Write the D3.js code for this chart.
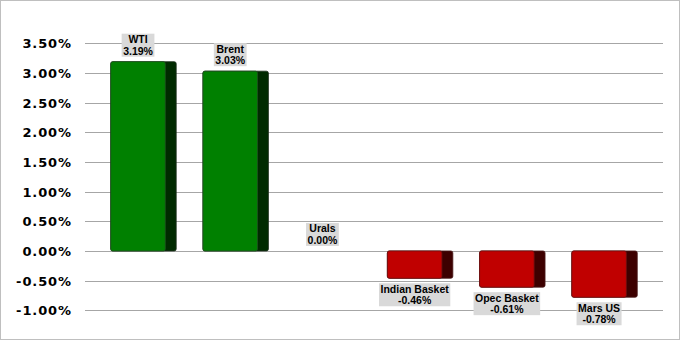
<!DOCTYPE html>
<html><head><meta charset="utf-8">
<script src="https://cdn.jsdelivr.net/npm/d3@7"></script>
<style>html,body{margin:0;padding:0;background:#fff}</style>
</head><body>
<script>
const categories = ["WTI", "Brent", "Urals", "Indian Basket", "Opec Basket", "Mars US"];
const values = [3.19, 3.03, 0.00, -0.46, -0.61, -0.78];
const tickValues = [-1.0, -0.5, 0, 0.5, 1.0, 1.5, 2.0, 2.5, 3.0, 3.5];

const W = 681, H = 341;
const svg = d3.select("body").append("svg").attr("width", W).attr("height", H);
svg.append("rect").attr("x", 0.5).attr("y", 0.5).attr("width", 679).attr("height", 339)
  .attr("fill", "#fff").attr("stroke", "#bfbfbf");

const x = d3.scaleBand().domain(categories).range([84, 664]).padding(0.29);
const y = d3.scaleLinear().domain([-1, 3.5]).range([310.3, 43.3]);
const pct = d3.formatLocale({decimal: ".", thousands: ",", grouping: [3], currency: ["", ""], minus: "-"}).format(".2f");
const fmt = v => pct(v) + "%";

// gridlines
svg.append("g").selectAll("line").data(tickValues).join("line")
  .attr("x1", 85).attr("x2", 663)
  .attr("y1", d => Math.round(y(d)) + 0.5).attr("y2", d => Math.round(y(d)) + 0.5)
  .attr("stroke", "#a6a6a6").attr("stroke-width", 1);

// y axis labels
const yAxis = d3.axisLeft(y).tickValues(tickValues).tickSize(0).tickPadding(0).tickFormat(fmt);
const ag = svg.append("g").attr("transform", "translate(72,0)").call(yAxis);
ag.select(".domain").remove();
ag.selectAll("text").attr("font-family", "DejaVu Sans").attr("font-weight", "bold")
  .attr("font-size", "13px").attr("letter-spacing", "0.9px").attr("fill", "#000")
  .attr("dy", "0.36em");

// bars
const bw = x.bandwidth();
const side = bw / 6;
const bars = svg.append("g").selectAll("g").data(categories.map((c, i) => ({c, v: values[i]}))).join("g");
bars.filter(d => d.v !== 0).each(function(d) {
  const g = d3.select(this);
  const pos = d.v >= 0;
  const top = Math.min(y(d.v), y(0)), h = Math.abs(y(d.v) - y(0));
  const x0 = x(d.c);
  g.append("rect").attr("x", x0).attr("y", top).attr("width", bw).attr("height", h)
    .attr("rx", 2).attr("fill", pos ? "#002b00" : "#3d0000")
    .attr("stroke", pos ? "#1c2e1c" : "#4a1a1a").attr("stroke-width", 0.8);
  g.append("rect").attr("x", x0).attr("y", top).attr("width", bw - side).attr("height", h)
    .attr("rx", 2).attr("fill", pos ? "#008000" : "#c00000")
    .attr("stroke", pos ? "#1f4f1f" : "#6b1010").attr("stroke-width", 0.8);
});

// data labels
bars.each(function(d) {
  const g = d3.select(this);
  const cx = x(d.c) + (bw - side) / 2;
  const boxH = 23;
  let by;
  if (d.v >= 0) by = y(d.v) - 5 - boxH; else by = y(d.v) + 5;
  const t1 = g.append("text").attr("x", cx).attr("y", by + 9.5).text(d.c);
  const t2 = g.append("text").attr("x", cx).attr("y", by + 21).text(fmt(d.v));
  [t1, t2].forEach(t => t.attr("text-anchor", "middle").attr("font-family", "Liberation Sans, Arial")
    .attr("font-size", "10.5px").attr("font-weight", "bold").attr("fill", "#000"));
  const wmax = Math.max(t1.node().getComputedTextLength(), t2.node().getComputedTextLength());
  g.insert("rect", "text").attr("x", cx - wmax / 2 - 1.5).attr("y", by).attr("width", wmax + 3)
    .attr("height", boxH).attr("fill", "#d9d9d9");
});
</script>
</body></html>
